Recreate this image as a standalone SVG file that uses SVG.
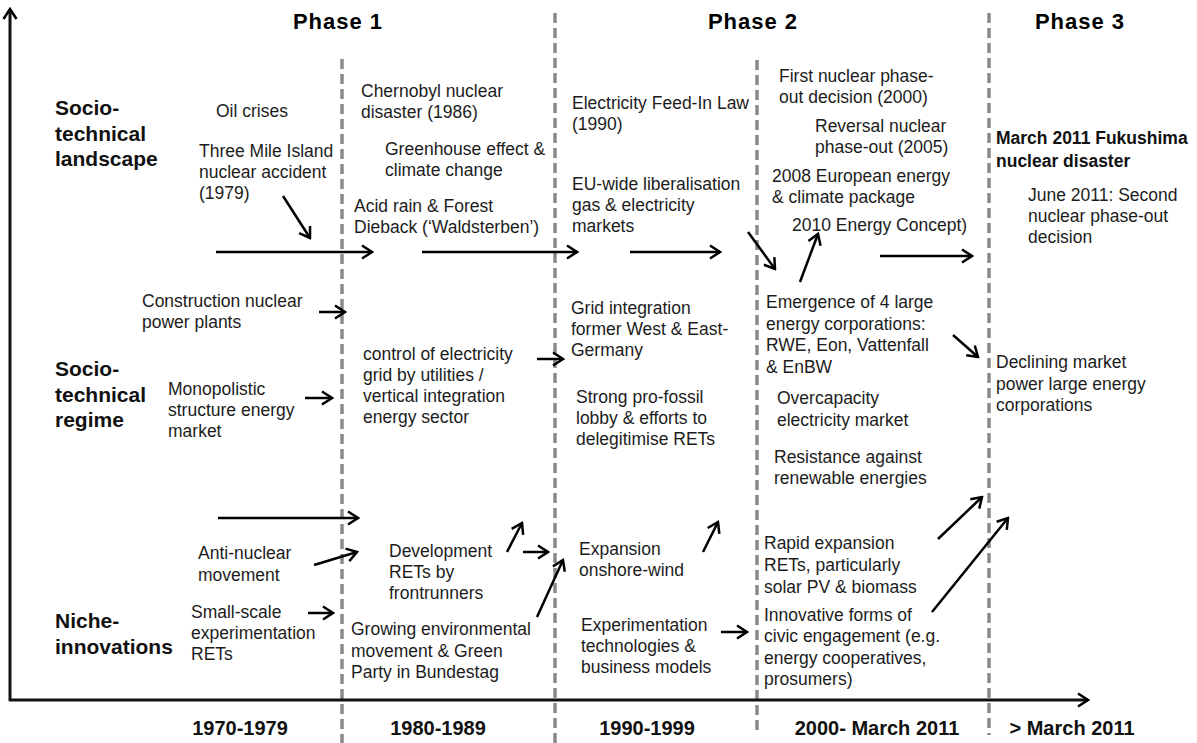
<svg xmlns="http://www.w3.org/2000/svg" width="1197" height="743" viewBox="0 0 1197 743">
  <defs>
    <style>
      .t { font-family: "Liberation Sans", Arial, sans-serif; font-size: 17.5px; fill: #1c1c1c; }
      .tb { font-family: "Liberation Sans", Arial, sans-serif; font-size: 17.5px; font-weight: bold; fill: #111; }
      .lvl { font-family: "Liberation Sans", Arial, sans-serif; font-size: 21px; font-weight: bold; fill: #111; }
      .ph { font-family: "Liberation Sans", Arial, sans-serif; font-size: 22px; font-weight: bold; letter-spacing: 1px; fill: #000; text-anchor: middle; }
      .yr { font-family: "Liberation Sans", Arial, sans-serif; font-size: 20px; font-weight: bold; fill: #111; text-anchor: middle; }
      .div { stroke: #8a8a8a; stroke-width: 3.5; stroke-dasharray: 10 5; fill: none; }
      .axis { stroke: #111; stroke-width: 3; fill: none; marker-end: url(#chev); }
      .arr { stroke: #000; stroke-width: 2.5; fill: none; marker-end: url(#chev); }
    </style>
    <marker id="chev" viewBox="0 0 14 16" refX="12" refY="8" markerWidth="14" markerHeight="16" markerUnits="userSpaceOnUse" orient="auto">
      <path d="M2,1.5 L12,8 L2,14.5" fill="none" stroke="#000" stroke-width="2.5"/>
    </marker>
  </defs>

  <rect width="1197" height="743" fill="#fff"/>

  <!-- phase dividers -->
  <g id="dividers">
    <line class="div" x1="342" y1="59" x2="342" y2="743"/>
    <line class="div" x1="555" y1="13" x2="555" y2="743"/>
    <line class="div" x1="757" y1="60" x2="757" y2="730"/>
    <line class="div" x1="989" y1="13" x2="989" y2="735"/>
  </g>

  <!-- axes -->
  <g id="axes">
    <line class="axis" x1="10" y1="701" x2="10" y2="9"/>
    <line class="axis" x1="9" y1="700" x2="1088" y2="700"/>
  </g>

  <!-- phase headings -->
  <g id="phases">
    <text class="ph" x="338" y="29">Phase 1</text>
    <text class="ph" x="753" y="29">Phase 2</text>
    <text class="ph" x="1080" y="29">Phase 3</text>
  </g>

  <!-- time periods -->
  <g id="periods">
    <text class="yr" x="240" y="735">1970-1979</text>
    <text class="yr" x="438" y="735">1980-1989</text>
    <text class="yr" x="647" y="735">1990-1999</text>
    <text class="yr" x="877" y="735">2000- March 2011</text>
    <text class="yr" x="1072" y="735">&gt; March 2011</text>
  </g>

  <!-- level labels -->
  <g id="level-landscape"><text class="lvl" x="55" y="115">Socio-<tspan x="55" dy="26">technical</tspan><tspan x="55" dy="25">landscape</tspan></text></g>
  <g id="level-regime"><text class="lvl" x="55" y="376">Socio-<tspan x="55" dy="26">technical</tspan><tspan x="55" dy="25">regime</tspan></text></g>
  <g id="level-niche"><text class="lvl" x="55" y="628">Niche-<tspan x="55" dy="26">innovations</tspan></text></g>

  <!-- landscape nodes -->
  <g id="oil-crises"><text class="t" x="216" y="117">Oil crises</text></g>
  <g id="three-mile-island"><text class="t" x="199" y="157">Three Mile Island<tspan x="199" dy="21">nuclear accident</tspan><tspan x="199" dy="21">(1979)</tspan></text></g>
  <g id="chernobyl"><text class="t" x="361" y="97">Chernobyl nuclear<tspan x="361" dy="21">disaster (1986)</tspan></text></g>
  <g id="greenhouse"><text class="t" x="385" y="155">Greenhouse effect &amp;<tspan x="385" dy="21">climate change</tspan></text></g>
  <g id="acid-rain"><text class="t" x="354" y="212">Acid rain &amp; Forest<tspan x="354" dy="21">Dieback (&#8216;Waldsterben&#8217;)</tspan></text></g>
  <g id="feed-in-law"><text class="t" x="572" y="109">Electricity Feed-In Law<tspan x="572" dy="21">(1990)</tspan></text></g>
  <g id="eu-liberalisation"><text class="t" x="572" y="190">EU-wide liberalisation<tspan x="572" dy="21">gas &amp; electricity</tspan><tspan x="572" dy="21">markets</tspan></text></g>
  <g id="first-phase-out"><text class="t" x="779" y="82">First nuclear phase-<tspan x="779" dy="21">out decision (2000)</tspan></text></g>
  <g id="reversal"><text class="t" x="815" y="132">Reversal nuclear<tspan x="815" dy="21">phase-out (2005)</tspan></text></g>
  <g id="eu-package"><text class="t" x="772" y="182">2008 European energy<tspan x="772" dy="21">&amp; climate package</tspan></text></g>
  <g id="energy-concept"><text class="t" x="792" y="231">2010 Energy Concept)</text></g>
  <g id="fukushima"><text class="tb" x="996" y="144">March 2011 Fukushima<tspan x="996" dy="23">nuclear disaster</tspan></text></g>
  <g id="second-phase-out"><text class="t" x="1028" y="201">June 2011: Second<tspan x="1028" dy="21">nuclear phase-out</tspan><tspan x="1028" dy="21">decision</tspan></text></g>

  <!-- regime nodes -->
  <g id="nuclear-plants"><text class="t" x="142" y="307">Construction nuclear<tspan x="142" dy="21">power plants</tspan></text></g>
  <g id="monopolistic"><text class="t" x="168" y="395">Monopolistic<tspan x="168" dy="21">structure energy</tspan><tspan x="168" dy="21">market</tspan></text></g>
  <g id="grid-control"><text class="t" x="363" y="360">control of electricity<tspan x="363" dy="21">grid by utilities /</tspan><tspan x="363" dy="21">vertical integration</tspan><tspan x="363" dy="21">energy sector</tspan></text></g>
  <g id="grid-integration"><text class="t" x="571" y="314">Grid integration<tspan x="571" dy="21">former West &amp; East-</tspan><tspan x="571" dy="21">Germany</tspan></text></g>
  <g id="fossil-lobby"><text class="t" x="576" y="403">Strong pro-fossil<tspan x="576" dy="21">lobby &amp; efforts to</tspan><tspan x="576" dy="21">delegitimise RETs</tspan></text></g>
  <g id="big-four"><text class="t" x="766" y="308">Emergence of 4 large<tspan x="766" dy="21.5">energy corporations:</tspan><tspan x="766" dy="21.5">RWE, Eon, Vattenfall</tspan><tspan x="766" dy="21.5">&amp; EnBW</tspan></text></g>
  <g id="overcapacity"><text class="t" x="777" y="404">Overcapacity<tspan x="777" dy="22">electricity market</tspan></text></g>
  <g id="resistance"><text class="t" x="774" y="463">Resistance against<tspan x="774" dy="21">renewable energies</tspan></text></g>
  <g id="declining-power"><text class="t" x="996" y="368">Declining market<tspan x="996" dy="22">power large energy</tspan><tspan x="996" dy="21">corporations</tspan></text></g>

  <!-- niche nodes -->
  <g id="anti-nuclear"><text class="t" x="198" y="559">Anti-nuclear<tspan x="198" dy="22">movement</tspan></text></g>
  <g id="small-scale"><text class="t" x="191" y="618">Small-scale<tspan x="191" dy="21">experimentation</tspan><tspan x="191" dy="21">RETs</tspan></text></g>
  <g id="frontrunners"><text class="t" x="389" y="557">Development<tspan x="389" dy="21">RETs by</tspan><tspan x="389" dy="21">frontrunners</tspan></text></g>
  <g id="green-movement"><text class="t" x="351" y="635">Growing environmental<tspan x="351" dy="22">movement &amp; Green</tspan><tspan x="351" dy="21">Party in Bundestag</tspan></text></g>
  <g id="onshore-wind"><text class="t" x="579" y="555">Expansion<tspan x="579" dy="21">onshore-wind</tspan></text></g>
  <g id="experimentation"><text class="t" x="581" y="631">Experimentation<tspan x="581" dy="21">technologies &amp;</tspan><tspan x="581" dy="21">business models</tspan></text></g>
  <g id="rapid-expansion"><text class="t" x="764" y="549">Rapid expansion<tspan x="764" dy="22">RETs, particularly</tspan><tspan x="764" dy="22">solar PV &amp; biomass</tspan></text></g>
  <g id="civic-engagement"><text class="t" x="764" y="621">Innovative forms of<tspan x="764" dy="21">civic engagement (e.g.</tspan><tspan x="764" dy="22">energy cooperatives,</tspan><tspan x="764" dy="21">prosumers)</tspan></text></g>

  <!-- connectors -->
  <g id="connectors">
    <line class="arr" x1="283" y1="196" x2="310" y2="238"/>
    <line class="arr" x1="216" y1="252" x2="372" y2="252"/>
    <line class="arr" x1="422" y1="252" x2="577" y2="252"/>
    <line class="arr" x1="630" y1="252" x2="720" y2="252"/>
    <line class="arr" x1="748" y1="232" x2="775" y2="269"/>
    <line class="arr" x1="800" y1="282" x2="818" y2="234"/>
    <line class="arr" x1="880" y1="256" x2="972" y2="256"/>
    <line class="arr" x1="319" y1="312" x2="345" y2="312"/>
    <line class="arr" x1="305" y1="398" x2="332" y2="398"/>
    <line class="arr" x1="537" y1="359" x2="563" y2="359"/>
    <line class="arr" x1="953" y1="335" x2="978" y2="357"/>
    <line class="arr" x1="218" y1="518" x2="358" y2="518"/>
    <line class="arr" x1="314" y1="565" x2="357" y2="552"/>
    <line class="arr" x1="308" y1="613" x2="333" y2="613"/>
    <line class="arr" x1="507" y1="552" x2="522" y2="523"/>
    <line class="arr" x1="523" y1="552" x2="548" y2="552"/>
    <line class="arr" x1="537" y1="617" x2="563" y2="560"/>
    <line class="arr" x1="703" y1="552" x2="718" y2="522"/>
    <line class="arr" x1="721" y1="632" x2="747" y2="632"/>
    <line class="arr" x1="938" y1="539" x2="982" y2="497"/>
    <line class="arr" x1="932" y1="612" x2="1008" y2="518"/>
  </g>
</svg>
